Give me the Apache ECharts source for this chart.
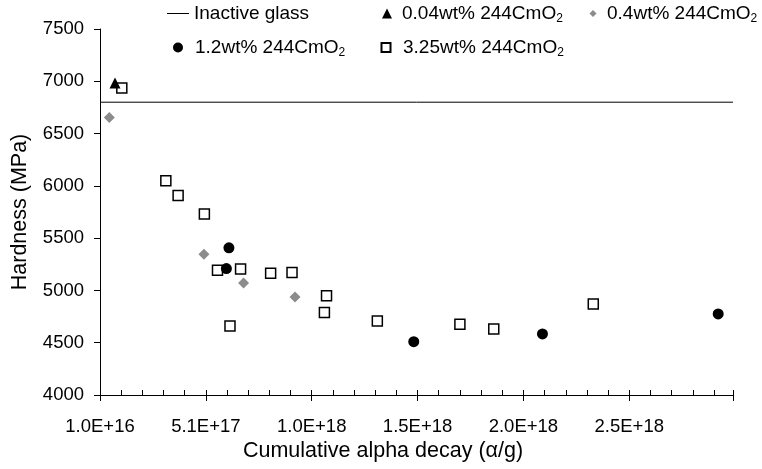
<!DOCTYPE html>
<html>
<head>
<meta charset="utf-8">
<script src="https://cdn.jsdelivr.net/npm/echarts@6/dist/echarts.min.js"></script>
<style>
  html, body { margin: 0; padding: 0; background: #fff; }
  #chart { width: 762px; height: 469px; }
</style>
</head>
<body>
<div id="chart"></div>
<script>
// hardness vs cumulative alpha decay
const xMin = 1e16, xMax = 3e18, xStep = 5e17;
const inactiveHardness = 6800;

const cm004X = [8.1e16];
const cm004Y = [6983];

const cm04X = [5.4e16, 5.01e17, 6.88e17, 9.31e17];
const cm04Y = [6654, 5347, 5072, 4938];

const cm12X = [6.19e17, 6.07e17, 1.492e18, 2.10e18, 2.93e18];
const cm12Y = [5407, 5209, 4510, 4584, 4775];

const cm325X = [1.13e17, 3.21e17, 3.79e17, 5.03e17, 5.65e17, 6.24e17, 6.74e17, 8.16e17,
                9.17e17, 1.07e18, 1.08e18, 1.32e18, 1.71e18, 1.87e18, 2.34e18];
const cm325Y = [6935, 6048, 5908, 5732, 5193, 4660, 5206, 5165,
                5171, 4788, 4950, 4708, 4677, 4632, 4871];

const FONT = 'Liberation Sans';
const pairs = (xs, ys) => xs.map((x, i) => [x, ys[i]]);
const SQUARE = 'path://M0,0L10,0L10,10L0,10Z';

const legendLabel = name => {
  if (name.indexOf('CmO2') < 0) return '{a|' + name + '}';
  return '{a|' + name.slice(0, -1) + '}{s|2}';
};
// one legend box per item so each can sit where the picture has it
const oneLegend = (name, icon, left, top, w, h, pad) => ({
  data: [icon ? { name: name, icon: icon } : name],
  left: left, top: top, padding: 0,
  itemWidth: w, itemHeight: h, selectedMode: false,
  formatter: legendLabel,
  textStyle: {
    rich: {
      a: { fontFamily: FONT, fontSize: 19, color: '#000', lineHeight: 22, padding: [0, 0, 0, pad] },
      s: { fontFamily: FONT, fontSize: 12, color: '#000', lineHeight: 10, verticalAlign: 'bottom' }
    }
  }
});

const chart = echarts.init(document.getElementById('chart'));
const option = {
  animation: false,
  backgroundColor: '#fff',
  legend: [
    oneLegend('Inactive glass', 'rect', 167, 4, 22, 1, 0),
    oneLegend('0.04wt% 244CmO2', 'triangle', 382, 4, 10, 10, 5),
    oneLegend('0.4wt% 244CmO2', 'diamond', 589.5, 4, 7, 7, 5.5),
    oneLegend('1.2wt% 244CmO2', 'circle', 173, 38, 10, 10, 7),
    oneLegend('3.25wt% 244CmO2', SQUARE, 380.5, 38, 9, 9, 7.5)
  ],
  grid: { left: 100, right: 29, top: 29, bottom: 74 },
  xAxis: [
    {
      type: 'value', min: xMin, max: xMax, interval: xStep,
      name: 'Cumulative alpha decay (α/g)', nameLocation: 'middle', nameGap: 45,
      nameMoveOverlap: false,
      nameTextStyle: { fontFamily: FONT, fontSize: 21.5, color: '#000', padding: [0, 67, 0, 0] },
      axisLine: { lineStyle: { color: '#000', width: 1 } },
      axisTick: { inside: true, length: 5, lineStyle: { color: '#000' } },
      minorTick: { show: true, splitNumber: 5, length: 5, lineStyle: { color: '#000' } },
      splitLine: { show: false },
      axisLabel: {
        margin: 22, fontFamily: FONT, fontSize: 18.5, color: '#000', showMaxLabel: false,
        formatter: v => v.toExponential(1).toUpperCase()
      }
    },
    {
      type: 'value', position: 'bottom', min: xMin, max: xMax, interval: xStep,
      axisLine: { show: false },
      axisTick: { inside: false, length: 6, lineStyle: { color: '#000' } },
      axisLabel: { show: false },
      splitLine: { show: false }
    }
  ],
  yAxis: {
    type: 'value', min: 4000, max: 7500, interval: 500,
    name: 'Hardness (MPa)', nameLocation: 'middle', nameGap: 69,
    nameMoveOverlap: false,
    nameTextStyle: { fontFamily: FONT, fontSize: 21.5, color: '#000' },
    axisLine: { show: true, lineStyle: { color: '#000', width: 1 } },
    axisTick: { show: true, length: 6, lineStyle: { color: '#000' } },
    splitLine: { show: false },
    axisLabel: { margin: 16, fontFamily: FONT, fontSize: 18.5, color: '#000', formatter: v => String(v) }
  },
  series: [
    {
      name: 'Inactive glass', type: 'line', symbol: 'none', z: 1,
      lineStyle: { color: '#000', width: 1 },
      itemStyle: { color: '#000' },
      data: [[xMin, inactiveHardness], [xMax, inactiveHardness]]
    },
    {
      name: '3.25wt% 244CmO2', type: 'scatter', symbol: 'rect', symbolSize: 10, z: 2,
      itemStyle: { color: '#fff', borderColor: '#000', borderWidth: 1.5, opacity: 1 },
      data: pairs(cm325X, cm325Y)
    },
    {
      name: '0.4wt% 244CmO2', type: 'scatter', symbol: 'diamond', symbolSize: 11, z: 3,
      itemStyle: { color: '#8c8c8c', opacity: 1 },
      data: pairs(cm04X, cm04Y)
    },
    {
      name: '1.2wt% 244CmO2', type: 'scatter', symbol: 'circle', symbolSize: 11, z: 4,
      itemStyle: { color: '#000', opacity: 1 },
      data: pairs(cm12X, cm12Y)
    },
    {
      name: '0.04wt% 244CmO2', type: 'scatter', symbol: 'triangle', symbolSize: 11, z: 5,
      itemStyle: { color: '#000', opacity: 1 },
      data: pairs(cm004X, cm004Y)
    }
  ]
};
chart.setOption(option);
</script>
</body>
</html>
